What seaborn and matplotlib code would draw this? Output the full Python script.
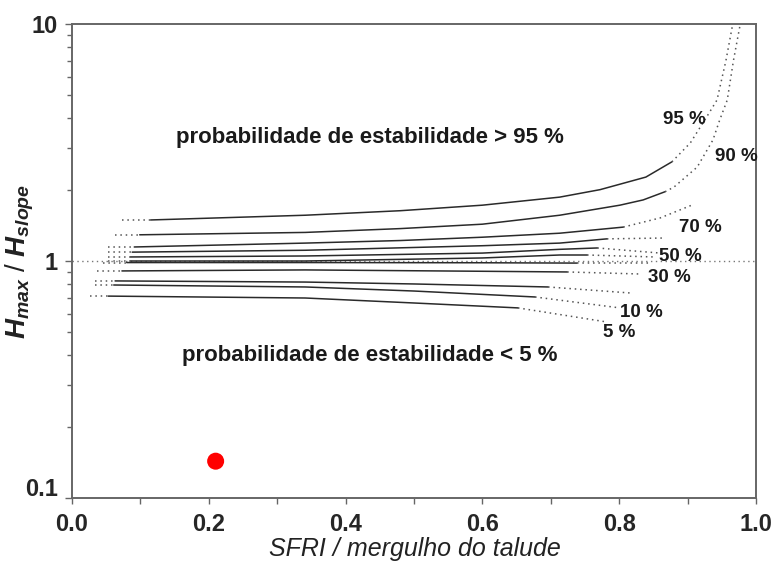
import numpy as np
import pandas as pd
import seaborn as sns
import matplotlib.pyplot as plt
import matplotlib.transforms as mtransforms
from matplotlib.ticker import LogLocator, NullFormatter, MultipleLocator

# curvas de probabilidade de estabilidade
levels = [95, 90, 80, 70, 60, 50, 40, 30, 20, 10, 5]

x95 = [0.073, 0.115, 0.341, 0.48, 0.60, 0.713, 0.772, 0.839, 0.877, 0.904, 0.928, 0.943, 0.956, 0.966]
y95 = [1.49, 1.49, 1.56, 1.63, 1.72, 1.86, 2.00, 2.26, 2.62, 3.15, 4.06, 4.78, 7.0, 10.0]
x90 = [0.063, 0.099, 0.341, 0.48, 0.60, 0.713, 0.801, 0.835, 0.867, 0.880, 0.914, 0.937, 0.947, 0.958, 0.967, 0.977]
y90 = [1.29, 1.29, 1.32, 1.37, 1.43, 1.56, 1.72, 1.81, 1.96, 2.05, 2.49, 3.24, 3.94, 4.78, 7.0, 10.0]
x80 = [0.053, 0.091, 0.341, 0.48, 0.60, 0.713, 0.806, 0.860, 0.906]
y80 = [1.146, 1.146, 1.19, 1.22, 1.26, 1.31, 1.39, 1.52, 1.72]
x70 = [0.053, 0.088, 0.341, 0.60, 0.713, 0.782, 0.864]
y70 = [1.09, 1.09, 1.11, 1.16, 1.19, 1.24, 1.25]
x60 = [0.053, 0.085, 0.341, 0.60, 0.713, 0.768, 0.860]
y60 = [1.04, 1.04, 1.05, 1.08, 1.12, 1.135, 1.08]
x50 = [0.053, 0.085, 0.341, 0.60, 0.713, 0.753, 0.852]
y50 = [1.0, 1.0, 1.0, 1.03, 1.06, 1.06, 1.04]
x40 = [0.045, 0.080, 0.341, 0.60, 0.738, 0.845]
y40 = [0.985, 0.985, 0.985, 0.983, 0.98, 0.98]
x30 = [0.037, 0.073, 0.341, 0.60, 0.724, 0.833]
y30 = [0.908, 0.908, 0.917, 0.905, 0.899, 0.881]
x20 = [0.034, 0.063, 0.341, 0.50, 0.696, 0.816]
y20 = [0.824, 0.824, 0.815, 0.80, 0.777, 0.733]
x10 = [0.034, 0.061, 0.341, 0.50, 0.677, 0.801]
y10 = [0.792, 0.792, 0.777, 0.747, 0.705, 0.634]
x05 = [0.026, 0.053, 0.341, 0.50, 0.652, 0.782]
y05 = [0.711, 0.711, 0.698, 0.665, 0.634, 0.553]

# trecho contínuo (fora dele a curva é extrapolada, pontilhada)
solid_x0 = [0.115, 0.099, 0.091, 0.088, 0.085, 0.085, 0.080, 0.073, 0.063, 0.061, 0.053]
solid_x1 = [0.877, 0.867, 0.806, 0.782, 0.768, 0.753, 0.738, 0.724, 0.696, 0.677, 0.652]

# talude analisado
slope_x = [0.21]
slope_y = [0.143]

curve_x = [x95, x90, x80, x70, x60, x50, x40, x30, x20, x10, x05]
curve_y = [y95, y90, y80, y70, y60, y50, y40, y30, y20, y10, y05]

rows = []
for lev, xs, ys, a, b in zip(levels, curve_x, curve_y, solid_x0, solid_x1):
    xs = np.array(xs)
    ys = np.array(ys)
    parts = [("esq", xs <= a), ("meio", (xs >= a) & (xs <= b)), ("dir", xs >= b)]
    for part, mask in parts:
        kind = "solid" if part == "meio" else "dotted"
        for x, y in zip(xs[mask], ys[mask]):
            rows.append({"seg": f"{lev}-{part}", "kind": kind, "x": x, "y": y})
df = pd.DataFrame(rows)

sns.set_style("ticks")
plt.rcParams["font.family"] = ["Liberation Sans", "DejaVu Sans"]
plt.rcParams["mathtext.fontset"] = "custom"
plt.rcParams["mathtext.it"] = "Liberation Sans:italic:bold"
plt.rcParams["mathtext.rm"] = "Liberation Sans:bold"

fig = plt.figure(figsize=(7.77, 5.65), dpi=100)
ax = fig.add_axes([72 / 777, 1 - 498 / 565, 684 / 777, 474 / 565])

# linha de referência H = 1
ax.axhline(1.0, color="#777777", lw=1.0, linestyle=(0, (1, 2.5)), zorder=1)

sns.lineplot(data=df[df["kind"] == "solid"], x="x", y="y", units="seg", estimator=None,
             sort=False, color="#2a2a2a", lw=1.1, ax=ax, legend=False)
sns.lineplot(data=df[df["kind"] == "dotted"], x="x", y="y", units="seg", estimator=None,
             sort=False, color="#555555", lw=1.1, linestyle=(0, (1, 2.5)), ax=ax, legend=False)

sns.scatterplot(x=slope_x, y=slope_y, color="#ff0000", s=150, edgecolor="none", ax=ax, zorder=5)

ax.set_yscale("log")
ax.set_xlim(0, 1)
ax.set_ylim(0.1, 10)

ax.set_xticks(np.arange(0, 1.01, 0.2), ["0.0", "0.2", "0.4", "0.6", "0.8", "1.0"])
ax.xaxis.set_minor_locator(MultipleLocator(0.1))
ax.set_yticks([0.1, 1, 10], ["0.1", "1", "10"])
ax.yaxis.set_minor_locator(LogLocator(base=10, subs=np.arange(2, 10)))
ax.yaxis.set_minor_formatter(NullFormatter())

ax.tick_params(axis="x", which="both", length=4, width=1, color="#666666", pad=7,
               labelsize=17)
ax.tick_params(axis="y", which="major", length=5, width=1, color="#666666", pad=5,
               labelsize=17)
ax.tick_params(axis="y", which="minor", length=3.5, width=1, color="#666666")
for lab in ax.get_xticklabels() + ax.get_yticklabels():
    lab.set_fontweight("bold")

# o rótulo 0.1 fica um pouco acima do canto
lab01 = ax.get_yticklabels()[0]
lab01.set_transform(lab01.get_transform()
                    + mtransforms.ScaledTranslation(0, 8 / 72, fig.dpi_scale_trans))

for sp in ax.spines.values():
    sp.set_color("#666666")
    sp.set_linewidth(1.4)

ax.set_xlabel("SFRI / mergulho do talude", fontsize=18, style="italic", color="#222222")
ax.set_ylabel(r"$H_{max}$ / $H_{slope}$", fontsize=20, color="#222222")
ax.xaxis.set_label_coords(0.501, -0.082)
ax.yaxis.set_label_coords(-0.053, 0.5)

ax.text(0.436, 3.33, "probabilidade de estabilidade > 95 %", ha="center", va="center",
        fontsize=16, fontweight="bold", color="#1a1a1a")
ax.text(0.436, 0.401, "probabilidade de estabilidade < 5 %", ha="center", va="center",
        fontsize=16, fontweight="bold", color="#1a1a1a")

pct_labels = [("95 %", 0.895, 3.94), ("90 %", 0.971, 2.77), ("70 %", 0.918, 1.39),
              ("50 %", 0.889, 1.04), ("30 %", 0.874, 0.856), ("10 %", 0.833, 0.609),
              ("5 %", 0.80, 0.497)]
for txt, tx, ty in pct_labels:
    ax.text(tx, ty, txt, ha="center", va="center", fontsize=13.5, fontweight="bold",
            color="#1a1a1a")

plt.savefig("out.png", dpi=100)
plt.close()
